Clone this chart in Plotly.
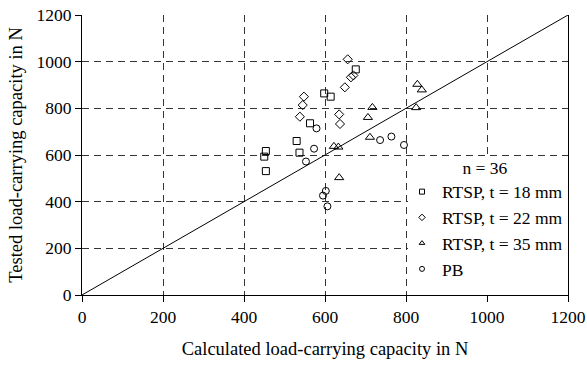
import plotly.graph_objects as go

# Calculated (x) vs tested (y) load-carrying capacity in N
sq_x = [454, 450, 454, 530, 537, 563, 598, 614, 676]
sq_y = [617, 593, 531, 660, 610, 736, 864, 850, 967]

di_x = [656, 664, 670, 649, 548, 545, 538, 635, 637]
di_y = [1010, 933, 941, 890, 850, 814, 764, 774, 733]

tr_x = [622, 633, 635, 711, 706, 717, 828, 839, 825]
tr_y = [637, 634, 503, 676, 761, 804, 903, 879, 803]

ci_x = [553, 573, 579, 602, 595, 606, 736, 764, 795]
ci_y = [572, 627, 714, 446, 426, 380, 664, 679, 643]

names = ["RTSP, t = 18 mm", "RTSP, t = 22 mm", "RTSP, t = 35 mm", "PB"]
symbols = ["square-open", "diamond-open", "triangle-up-open", "circle-open"]
series = [(sq_x, sq_y), (di_x, di_y), (tr_x, tr_y), (ci_x, ci_y)]
sizes = [7, 7, 8, 7]

ticks = [0, 200, 400, 600, 800, 1000, 1200]
line_1to1 = [0, 1200]

FONT = "Liberation Serif, Times New Roman, serif"

fig = go.Figure()

# 1:1 line
fig.add_trace(go.Scatter(x=line_1to1, y=line_1to1, mode="lines",
                         line=dict(color="black", width=1), showlegend=False,
                         hoverinfo="skip"))

for (xs, ys), sym, sz in zip(series, symbols, sizes):
    fig.add_trace(go.Scatter(x=xs, y=ys, mode="markers", showlegend=False,
                             marker=dict(symbol=sym, size=sz, color="black",
                                         line=dict(color="black", width=1))))

# legend entries with small markers
for nm, sym in zip(names, symbols):
    fig.add_trace(go.Scatter(x=[None], y=[None], mode="markers", name=nm,
                             marker=dict(symbol=sym, size=5, color="black",
                                         line=dict(color="black", width=1))))

# white background behind legend area
fig.add_shape(type="rect", xref="x", yref="y", x0=805, x1=1200, y0=0, y1=585,
              fillcolor="white", line=dict(width=0), layer="between")

axis_common = dict(
    range=[0, 1200], tickvals=ticks, showgrid=True, gridcolor="#333",
    gridwidth=1, griddash="7px,5px", zeroline=False, showline=True,
    linecolor="black", linewidth=1, ticks="outside", ticklen=6,
    tickcolor="black", tickfont=dict(family=FONT, size=17.5, color="black"),
    automargin=False,
)

fig.update_xaxes(**axis_common,
                 title=dict(text="Calculated load-carrying capacity in N",
                            font=dict(family=FONT, size=18.5, color="black"),
                            standoff=16))
fig.update_yaxes(**axis_common, mirror=True,
                 title=dict(text="Tested load-carrying capacity in N",
                            font=dict(family=FONT, size=18.5, color="black"),
                            standoff=9))

fig.update_layout(
    width=587, height=365,
    margin=dict(l=82, r=19, t=15, b=70, autoexpand=False),
    plot_bgcolor="white", paper_bgcolor="white",
    font=dict(family=FONT, size=17.5, color="black"),
    legend=dict(
        x=(402 - 82) / 486, y=(295 - 151) / 280, xanchor="left", yanchor="top",
        bgcolor="rgba(0,0,0,0)", borderwidth=0,
        title=dict(text="n = 36", side="top center",
                   font=dict(family=FONT, size=17.5, color="black")),
        font=dict(family=FONT, size=17.5, color="black"),
        tracegroupgap=0,
    ),
)

fig.write_html("out.html")
